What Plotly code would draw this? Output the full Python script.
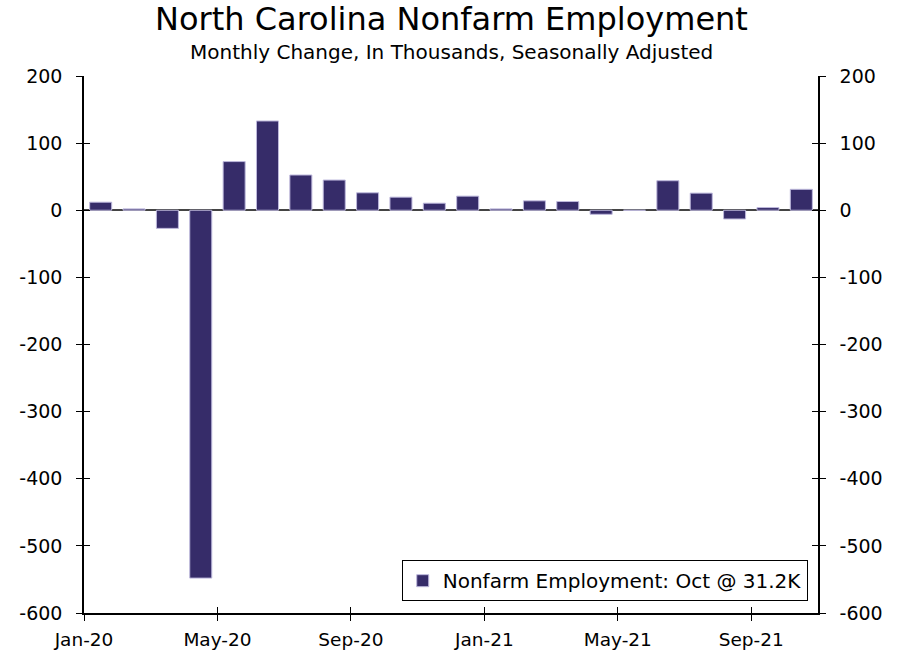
import plotly.graph_objects as go

# Monthly change in NC nonfarm payrolls, thousands, SA
months = ["Jan-20", "Feb-20", "Mar-20", "Apr-20", "May-20", "Jun-20", "Jul-20", "Aug-20",
          "Sep-20", "Oct-20", "Nov-20", "Dec-20", "Jan-21", "Feb-21", "Mar-21", "Apr-21",
          "May-21", "Jun-21", "Jul-21", "Aug-21", "Sep-21", "Oct-21"]
change = [12.0, 2.0, -27.0, -548.0, 72.5, 133.0, 52.5, 45.0, 26.0, 19.5, 10.5, 21.0,
          2.0, 14.0, 13.0, -6.0, 0.0, 44.0, 25.5, -13.0, 4.0, 31.2]
tick_labels = ["Jan-20", "May-20", "Sep-20", "Jan-21", "May-21", "Sep-21"]
y_ticks = [200, 100, 0, -100, -200, -300, -400, -500, -600]
y_tick_text = ["200", "100", "0", "-100", "-200", "-300", "-400", "-500", "-600"]

BAR = "#362C69"
FONT = "DejaVu Sans"

idx = list(range(len(months)))
tick_pos = [months.index(m) - 0.5 for m in tick_labels]
xr = [-0.5, len(months) - 0.5]
yr = [-600, 200]

fig = go.Figure()
fig.add_trace(go.Bar(
    x=idx, y=change, name="Nonfarm Employment: Oct @ 31.2K",
    marker=dict(color=BAR, line=dict(color="#bdb8dc", width=1)),
    width=0.66, hovertext=months,
))
# empty traces that carry the mirrored/overlay axes
fig.add_trace(go.Scatter(x=[], y=[], xaxis="x2", yaxis="y2", showlegend=False))
fig.add_trace(go.Scatter(x=[], y=[], xaxis="x", yaxis="y3", showlegend=False))
fig.add_trace(go.Scatter(x=[], y=[], xaxis="x", yaxis="y4", showlegend=False))

tick_style = dict(showgrid=False, tickcolor="#000", tickwidth=1.2, ticklen=6, automargin=False)
line_style = dict(showline=True, linecolor="#000", linewidth=1.5)

fig.update_layout(
    width=897, height=652,
    margin=dict(l=84, r=79, t=76, b=39),
    paper_bgcolor="white", plot_bgcolor="white",
    font=dict(family=FONT, size=19, color="#000"),
    showlegend=True,
    legend=dict(
        x=0.986, y=0.022, xanchor="right", yanchor="bottom",
        bgcolor="white", bordercolor="#000", borderwidth=1,
        font=dict(family=FONT, size=20, color="#000"),
        itemwidth=30, tracegroupgap=0,
    ),
    bargap=0.34,
    xaxis=dict(range=xr, tickmode="array", tickvals=tick_pos, ticktext=tick_labels,
               ticks="outside", zeroline=False, ticklabelstandoff=3,
               tickfont=dict(size=18.5), **tick_style, **line_style),
    xaxis2=dict(range=xr, overlaying="x", side="bottom", tickmode="array", tickvals=tick_pos,
                ticks="inside", showticklabels=False, showline=False, zeroline=False,
                **tick_style),
    yaxis=dict(range=yr, tickmode="array", tickvals=y_ticks, ticktext=y_tick_text,
               ticks="outside", zeroline=True, zerolinecolor="#444", zerolinewidth=1.5,
               ticklabelstandoff=10, **tick_style, **line_style),
    yaxis2=dict(range=yr, overlaying="y", side="right", tickmode="array", tickvals=y_ticks,
                ticktext=y_tick_text, ticks="outside", zeroline=False,
                ticklabelstandoff=10, **tick_style, **line_style),
    yaxis3=dict(range=yr, overlaying="y", side="left", tickmode="array", tickvals=y_ticks,
                ticks="inside", showticklabels=False, showline=False, zeroline=False,
                **tick_style),
    yaxis4=dict(range=yr, overlaying="y", side="right", tickmode="array", tickvals=y_ticks,
                ticks="inside", showticklabels=False, showline=False, zeroline=False,
                **tick_style),
    annotations=[
        dict(text="North Carolina Nonfarm Employment", xref="paper", yref="paper",
             x=0.5, y=1.0, xanchor="center", yanchor="bottom", yshift=36, showarrow=False,
             font=dict(family=FONT, size=32, color="#000")),
        dict(text="Monthly Change, In Thousands, Seasonally Adjusted", xref="paper",
             yref="paper", x=0.5, y=1.0, xanchor="center", yanchor="bottom", yshift=10,
             showarrow=False, font=dict(family=FONT, size=20, color="#000")),
    ],
)

fig.write_html("out.html")
